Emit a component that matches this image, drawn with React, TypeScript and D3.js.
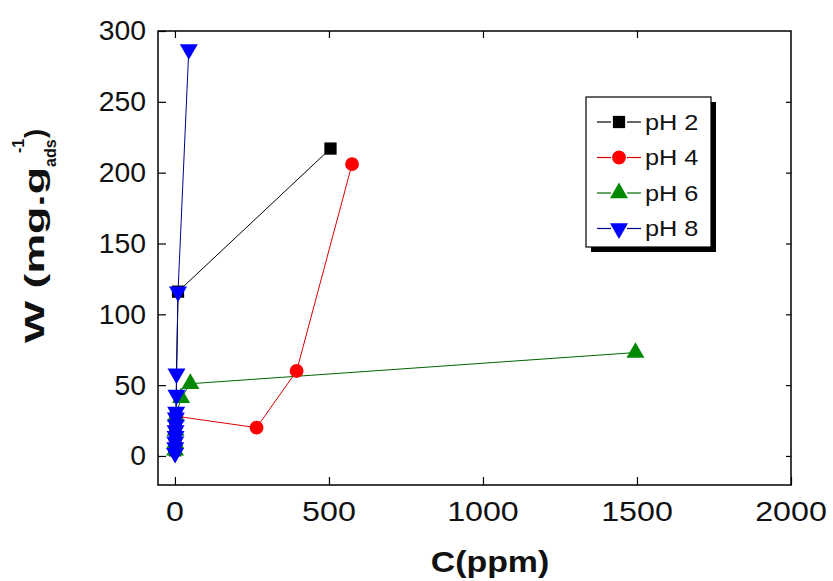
import React, { useEffect, useRef } from "react";
import * as d3 from "d3";

// values
const ph2C = [0.5, 1, 2, 3, 10, 505];
const ph2W = [4, 10, 20, 30, 116, 217];
const ph4C = [0.5, 1, 2, 5, 265, 395, 575];
const ph4W = [5, 12, 20, 28, 20, 60, 206];
const ph6C = [0.5, 1, 2, 3, 20, 50, 1495];
const ph6W = [4, 9, 18, 28, 41, 51, 73];
const ph8C = [0.5, 1, 1, 2, 2, 3, 3, 4, 5, 5, 10, 45];
const ph8W = [2, 6, 10, 14, 18, 22, 27, 31, 43, 58, 116, 287];

const seriesNames = ["pH 2", "pH 4", "pH 6", "pH 8"];
const xTicks = [0, 500, 1000, 1500, 2000];
const yTicks = [0, 50, 100, 150, 200, 250, 300];

const styles = [
  { line: "#000", fill: "#000", shape: d3.symbolSquare, size: 150, rot: 0 },
  { line: "#d00", fill: "#f00", shape: d3.symbolCircle, size: 150, rot: 0 },
  { line: "#060", fill: "#080", shape: d3.symbolTriangle, size: 140, rot: 0 },
  { line: "#008", fill: "#00f", shape: d3.symbolTriangle, size: 140, rot: 180 },
];

const font = "'Liberation Sans', Arial, sans-serif";

function label(parent: any, x: number, y: number, str: string, size: number, anchor: string, sx = 1.15) {
  parent.append("g")
    .attr("transform", `translate(${x},${y}) scale(${sx},1)`)
    .append("text")
    .attr("text-anchor", anchor)
    .attr("dy", "0.35em")
    .attr("font-family", font)
    .attr("font-size", size)
    .attr("fill", "#111")
    .text(str);
}

export default function App() {
  const ref = useRef<SVGSVGElement>(null);

  useEffect(() => {
    document.body.style.margin = "0";
    const svg = d3.select(ref.current);
    svg.selectAll("*").remove();

    const x = d3.scaleLinear([-55, 2000], [158, 791]);
    const y = d3.scaleLinear([-20.5, 300], [485, 31]);

    const series = [
      d3.zip(ph2C, ph2W),
      d3.zip(ph4C, ph4W),
      d3.zip(ph6C, ph6W),
      d3.zip(ph8C, ph8W),
    ];

    const line = d3.line<number[]>()
      .x(d => x(d[0]))
      .y(d => y(d[1]));

    const plot = svg.append("g");

    series.forEach((pts, i) => {
      plot.append("path")
        .attr("d", line(pts))
        .attr("fill", "none")
        .attr("stroke", styles[i].line)
        .attr("stroke-width", 1);
    });
    series.forEach((pts, i) => {
      const st = styles[i];
      const sym = d3.symbol().type(st.shape).size(st.size);
      plot.selectAll(null)
        .data(pts)
        .enter()
        .append("path")
        .attr("d", sym())
        .attr("transform", d => `translate(${x(d[0])},${y(d[1])}) rotate(${st.rot})`)
        .attr("fill", st.fill);
    });

    // frame
    const [x0, x1] = x.range();
    const [y0, y1] = y.range();
    svg.append("rect")
      .attr("x", x0).attr("y", y1)
      .attr("width", x1 - x0).attr("height", y0 - y1)
      .attr("fill", "none").attr("stroke", "#000").attr("stroke-width", 1.5);

    // ticks inside, mirrored on the top and right
    svg.append("g")
      .attr("transform", `translate(0,${y0})`)
      .call(d3.axisBottom(x).tickValues(xTicks).tickSize(-8).tickFormat(() => ""))
      .select(".domain").remove();
    svg.append("g")
      .attr("transform", `translate(0,${y1})`)
      .call(d3.axisTop(x).tickValues(xTicks.filter(t => t < 2000)).tickSize(-7).tickFormat(() => ""))
      .select(".domain").remove();
    svg.append("g")
      .attr("transform", `translate(${x0},0)`)
      .call(d3.axisLeft(y).tickValues(yTicks).tickSize(-8).tickFormat(() => ""))
      .select(".domain").remove();
    svg.append("g")
      .attr("transform", `translate(${x1},0)`)
      .call(d3.axisRight(y).tickValues(yTicks.filter(t => t < 300)).tickSize(-5).tickFormat(() => ""))
      .select(".domain").remove();
    svg.selectAll(".tick line").attr("stroke", "#000").attr("stroke-width", 1.2);

    // tick labels
    xTicks.forEach(t => label(svg, x(t), 511, String(t), 28, "middle"));
    yTicks.forEach(t => label(svg, 146, y(t), String(t), 27, "end", 1.05));

    // axis titles
    svg.append("g")
      .attr("transform", `translate(490,572) scale(1.13,1)`)
      .append("text")
      .attr("text-anchor", "middle")
      .attr("font-family", font)
      .attr("font-size", 30)
      .attr("font-weight", "bold")
      .attr("fill", "#111")
      .text("C(ppm)");

    const yt = svg.append("g")
      .attr("transform", "rotate(-90)")
      .attr("font-family", font)
      .attr("font-weight", "bold")
      .attr("fill", "#111");
    // rotated frame: x' = -pageY, y' = pageX
    yt.append("text")
      .attr("x", -343).attr("y", 44)
      .attr("font-size", 27)
      .attr("textLength", 176)
      .attr("lengthAdjust", "spacingAndGlyphs")
      .text("W (mg.g");
    yt.append("text")
      .attr("x", -167).attr("y", 56)
      .attr("font-size", 16)
      .text("ads");
    yt.append("text")
      .attr("x", -153).attr("y", 24)
      .attr("font-size", 16)
      .text("-1");
    yt.append("text")
      .attr("x", -138).attr("y", 44)
      .attr("font-size", 27)
      .text(")");

    // legend with drop shadow
    const lg = svg.append("g");
    lg.append("rect")
      .attr("x", 591).attr("y", 102).attr("width", 125).attr("height", 150)
      .attr("fill", "#000");
    lg.append("rect")
      .attr("x", 586).attr("y", 97).attr("width", 125).attr("height", 150)
      .attr("fill", "#fff").attr("stroke", "#000").attr("stroke-width", 1.2);

    seriesNames.forEach((name, i) => {
      const st = styles[i];
      const cy = 122 + i * 35.5;
      lg.append("line")
        .attr("x1", 597).attr("x2", 611).attr("y1", cy).attr("y2", cy)
        .attr("stroke", st.line).attr("stroke-width", 1.2);
      lg.append("line")
        .attr("x1", 627).attr("x2", 641).attr("y1", cy).attr("y2", cy)
        .attr("stroke", st.line).attr("stroke-width", 1.2);
      lg.append("path")
        .attr("d", d3.symbol().type(st.shape).size(st.size)())
        .attr("transform", `translate(619,${cy}) rotate(${st.rot})`)
        .attr("fill", st.fill);
      label(lg, 645, cy, name, 22, "start");
    });
  }, []);

  return <svg ref={ref} width={833} height={581} style={{ display: "block", background: "#fff" }} />;
}
